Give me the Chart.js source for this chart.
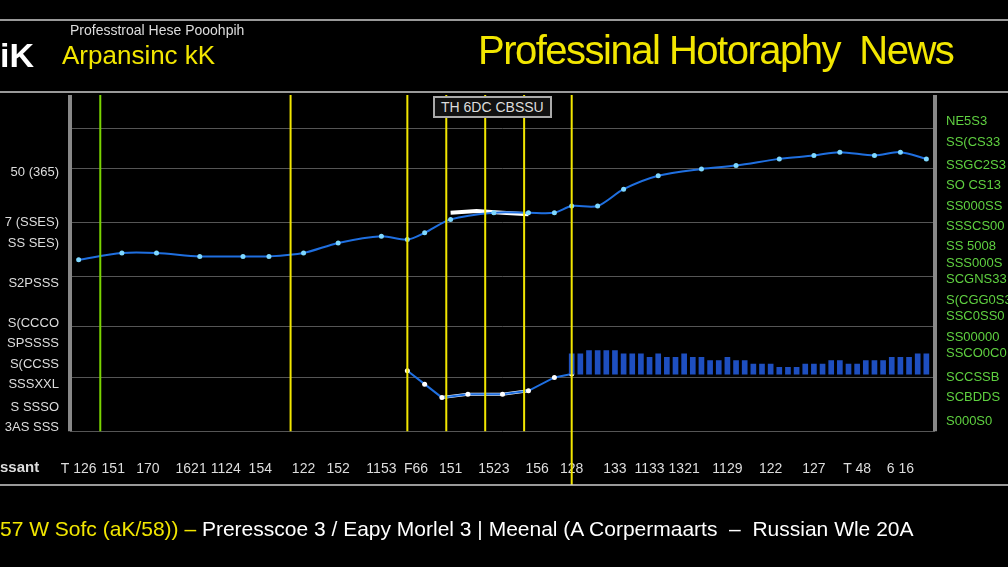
<!DOCTYPE html>
<html><head><meta charset="utf-8">
<script src="https://cdn.jsdelivr.net/npm/chart.js@4/dist/chart.umd.min.js"></script>
<style>
html,body{margin:0;background:#000;width:1008px;height:567px;overflow:hidden;font-family:"Liberation Sans",Arial,sans-serif}
#wrap{position:absolute;left:0;top:0;width:1008px;height:567px}
.t{position:absolute;white-space:nowrap}
</style></head><body>
<div id="wrap"><canvas id="c" width="1008" height="567"></canvas></div>
<div class="t" style="left:0;top:36px;color:#fff;font-size:34px;font-weight:bold">iK</div>
<div class="t" style="left:70px;top:22px;color:#ddd;font-size:14px">Professtroal Hese Pooohpih</div>
<div class="t" style="left:62px;top:40px;color:#f2e600;font-size:26px">Arpansinc kK</div>
<div class="t" style="left:478px;top:28px;color:#f2e600;font-size:40px;letter-spacing:-1.5px">Professinal Hotoraphy &nbsp;News</div>
<div class="t" style="left:0;top:458px;color:#ddd;font-size:15px;font-weight:bold">ssant</div>
<div class="t" style="left:0;top:517px;color:#f2e600;font-size:21px">57 W Sofc (aK/58)) – <span style="color:#fff">Preresscoe 3 / Eapy Morlel 3 | Meenal (A Corpermaarts &nbsp;– &nbsp;Russian Wle 20A</span></div>
<div class="t" style="left:433px;top:96px;color:#ddd;font-size:14px;border:2px solid #aaa;padding:1px 6px;background:#111">TH 6DC CBSSU</div>
<script>
const mainX=[1,6,10,15,20,23,27,31,36,39,41,44,49,53,56,58,61,64,68,73,77,82,86,89,93,96,99];
const mainY=[51,53,53,52,52,52,53,56,58,57,59,63,65,65,65,67,67,72,76,78,79,81,82,83,82,83,81];
const hiX=[44,47,50,53];
const hiY=[65,65.5,65,64.5];
const loX=[39,41,43,46,50,53,56,58];
const loY=[18,14,10,11,11,12,16,17];
const barX=[58,59,60,61,62,63,64,65,66,67,68,69,70,71,72,73,74,75,76,77,78,79,80,81,82,83,84,85,86,87,88,89,90,91,92,93,94,95,96,97,98,99];
const barTop=[23,23,24,24,24,24,23,23,23,22,23,22,22,23,22,22,21,21,22,21,21,20,20,20,19,19,19,20,20,20,21,21,20,20,21,21,21,22,22,22,23,23];
const barBase=17;
const vLines=[3.5,25.5,39,43.5,48,52.5,58];
const vColors=['#7ad400','#f2e600','#f2e600','#f2e600','#f2e600','#f2e600','#f2e600'];
const xTickVals=[1,5,9,14,18,22,27,31,36,40,44,49,54,58,63,67,71,76,81,86,91,96];
const xTickLbl=['T 126','151','170','1621','1124','154','122','152','1153','F66','151','1523','156','128','133','1133','1321','1129','122','127','T 48','6 16'];
const yTickVals=[77,62,56,44,32,26,20,14,7,1];
const yTickLbl=['50 (365)','7 (SSES)','SS SES)','S2PSSS','S(CCCO','SPSSSS','S(CCSS','SSSXXL','S SSSO','3AS SSS'];
const rTickVals=[92,86,79,73,67,61,55,50,45,39,34,28,23,16,10,3];
const rTickLbl=['NE5S3','SS(CS33','SSGC2S3','SO CS13','SS000SS','SSSCS00','SS 5008','SSS000S','SCGNS33','S(CGG0S3','SSC0SS0','SS00000','SSCO0C0','SCCSSB','SCBDDS','S000S0'];
const vlinePlugin={id:'vl',afterDatasetsDraw(ch){const {ctx,chartArea:a,scales:{x}}=ch;ctx.save();ctx.lineWidth=2;
vLines.forEach((v,i)=>{const px=x.getPixelForValue(v);ctx.strokeStyle=vColors[i];ctx.beginPath();ctx.moveTo(px,a.top);ctx.lineTo(px,i==6?485:a.bottom);ctx.stroke();});
ctx.strokeStyle='#888';ctx.lineWidth=4;[a.left,a.right].forEach(px=>{ctx.beginPath();ctx.moveTo(px,a.top);ctx.lineTo(px,a.bottom);ctx.stroke();});
ctx.strokeStyle='#ccc';ctx.lineWidth=1.5;[20,485].forEach(py=>{ctx.beginPath();ctx.moveTo(0,py);ctx.lineTo(1008,py);ctx.stroke();});
ctx.beginPath();ctx.moveTo(0,92);ctx.lineTo(1008,92);ctx.stroke();ctx.restore();}};
new Chart(document.getElementById('c'),{
 data:{datasets:[
  {type:'bar',data:barX.map((v,i)=>({x:v,y:[barBase,barTop[i]]})),backgroundColor:'#1e4fc0',barThickness:5},
  {type:'line',data:mainX.map((v,i)=>({x:v,y:mainY[i]})),borderColor:'#1f6fe0',borderWidth:2,pointRadius:2.5,pointBackgroundColor:'#7fd8ff',pointBorderWidth:0,tension:0.3},
  {type:'line',data:hiX.map((v,i)=>({x:v,y:hiY[i]})),borderColor:'#fff',borderWidth:4,pointRadius:0},
  {type:'line',data:loX.map((v,i)=>({x:v,y:loY[i]})),borderColor:'#1f6fe0',borderWidth:2,pointRadius:2.5,pointBackgroundColor:'#fff',pointBorderWidth:0},
  {type:'line',data:loX.slice(2,6).map((v,i)=>({x:v,y:loY[i+2]})),borderColor:'#fff',borderWidth:3,pointRadius:0}
 ]},
 options:{responsive:false,animation:false,
  layout:{padding:{left:0,right:0,top:95,bottom:67}},
  plugins:{legend:{display:false},tooltip:{enabled:false}},
  scales:{
   x:{type:'linear',offset:false,min:0,max:100,grid:{display:false,offset:false},border:{display:false},
      afterBuildTicks(s){s.ticks=xTickVals.map(v=>({value:v}));},
      ticks:{color:'#ddd',font:{size:14},maxRotation:0,autoSkip:false,padding:22,callback:(v)=>xTickLbl[xTickVals.indexOf(v)]}},
   y:{min:0,max:100,afterFit(s){s.width=70;},grid:{display:false},border:{display:false},
      afterBuildTicks(s){s.ticks=yTickVals.map(v=>({value:v}));},
      ticks:{color:'#ddd',font:{size:13},autoSkip:false,callback:(v)=>yTickLbl[yTickVals.indexOf(v)]}},
   y2:{position:'right',min:0,max:100,afterFit(s){s.width=73;},border:{display:false},
      grid:{display:false},
      afterBuildTicks(s){s.ticks=rTickVals.map(v=>({value:v}));},
      ticks:{color:'#5fd040',font:{size:13},autoSkip:false,callback:(v)=>rTickLbl[rTickVals.indexOf(v)]}},
   g:{display:true,position:'left',min:0,max:100,afterFit(s){s.width=0;},ticks:{display:false},border:{display:false},
      afterBuildTicks(s){s.ticks=[0,16,31,46,62,78,90].map(v=>({value:v}));},
      grid:{color:'#555',lineWidth:1,drawTicks:false}}
  }},
 plugins:[vlinePlugin]
});
</script></body></html>
